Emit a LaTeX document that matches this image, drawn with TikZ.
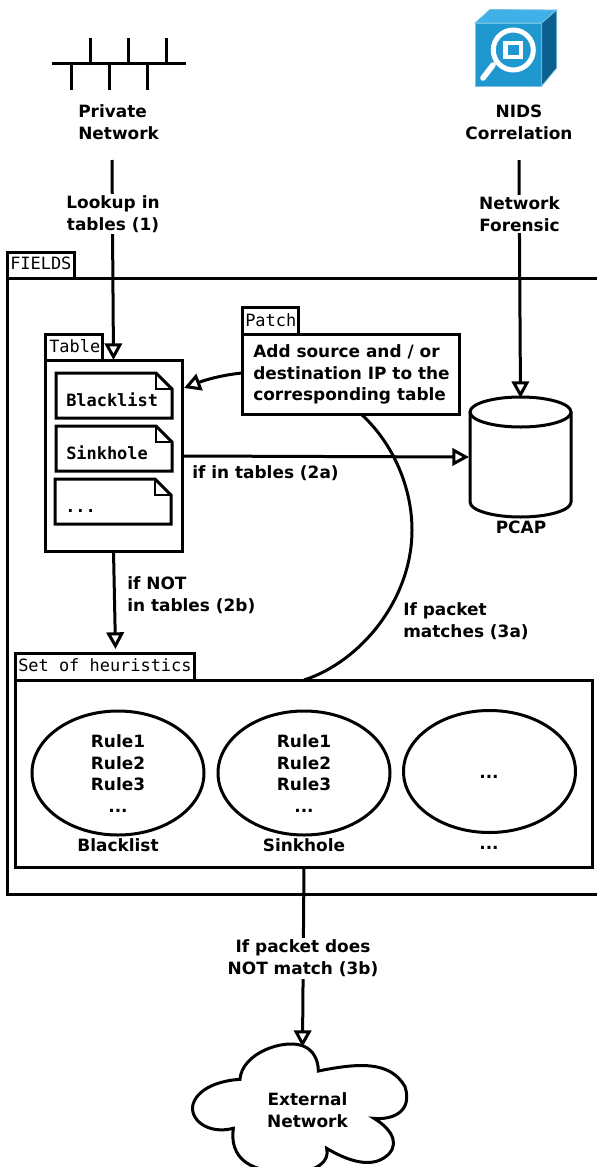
\documentclass[tikz,border=0pt]{standalone}
\usepackage{fontspec}
\setmainfont{DejaVu Sans}
\setmonofont{DejaVu Sans Mono}
\usetikzlibrary{arrows.meta,shapes.geometric}
\definecolor{icofront}{HTML}{1F97CF}
\definecolor{icotop}{HTML}{3FB0E8}
\definecolor{icoside}{HTML}{0A5F8C}
\def\tdots{...}
\tikzset{
  ln/.style={line width=2.25pt,line join=miter},
  box/.style={draw,line width=2.25pt,fill=white,inner sep=0pt,outer sep=0pt,anchor=north west},
  tabtxt/.style={font=\ttfamily\fontsize{12.7}{16}\selectfont,inner sep=0pt,anchor=base west},
  lbl/.style={font=\bfseries\fontsize{12.7}{16.4}\selectfont,inner sep=0pt,align=center},
  lbll/.style={font=\bfseries\fontsize{12.7}{16.4}\selectfont,inner sep=0pt,align=left},
  cut/.style={lbl,fill=white,inner sep=1.5pt},
  conn/.style={ln,-{Triangle[open,length=12.5pt,width=13pt,line width=2.25pt,fill=white]}},
  plainconn/.style={ln},
  notebox/.style={ln,fill=white},
  rule/.style={draw,ellipse,line width=2.25pt,fill=white,inner sep=0pt,outer sep=0pt},
}
\begin{document}
\begin{tikzpicture}[x=0.75pt,y=-0.75pt]
\useasboundingbox (0,0) rectangle (597,1167);
% Private network symbol
\draw[ln] (52,63) -- (186,63);
\foreach \xx in {90,128,166} \draw[ln] (\xx,38) -- (\xx,63);
\foreach \xx in {71,109,147} \draw[ln] (\xx,63) -- (\xx,90);
\node[lbll,anchor=north west] (pn) at (78,104) {Private\\Network};
% NIDS icon
\fill[icofront,draw=icofront!60!white,line width=0.6pt] (475,23) rectangle (541.7,86);
\fill[icotop,draw=icofront!60!white,line width=0.6pt] (475,23) -- (490,9.5) -- (556.7,10) -- (541.7,23) -- cycle;
\fill[icoside,draw=icofront!60!white,line width=0.6pt] (541.7,23) -- (556.7,10) -- (556.7,68) -- (541.7,86) -- cycle;
\draw[white,line width=4.2pt,line cap=round] (493,65) -- (483,78);
\draw[white,line width=3.75pt] (513.3,50) circle (20);
\draw[white,line width=3.4pt] (505.5,43) rectangle (521,57);
\node[lbl] (nids) at (519,122) {NIDS\\Correlation};
% FIELDS
\node[box,minimum width=67.5*0.75pt,minimum height=26*0.75pt] (fieldstab) at (7,252) {};
\node[tabtxt] (fieldstxt) at (10,269) {FIELDS};
\draw[ln] (597,278) -- (7,278) -- (7,894) -- (597,894);
% Table
\node[box,minimum width=57*0.75pt,minimum height=26*0.75pt] (tabletab) at (45,334) {};
\node[tabtxt] (tabletxt) at (49,352) {Table};
\node[box,minimum width=137*0.75pt,minimum height=191*0.75pt] (tablebox) at (45,360) {};
\foreach \yy/\nm/\xo/\tn in {373/Blacklist/56/nb,426/Sinkhole/56/ns,479/\tdots/55/nd}{
  \draw[notebox] (\xo,\yy) -- ({\xo+100},\yy) -- ({\xo+116},{\yy+16}) -- ({\xo+116},{\yy+45}) -- (\xo,{\yy+45}) -- cycle;
  \draw[ln,line width=1.6pt] ({\xo+100},\yy) -- ({\xo+100},{\yy+16}) -- ({\xo+116},{\yy+16});
  \node[tabtxt,font=\ttfamily\bfseries\fontsize{12.7}{16}\selectfont] (\tn) at ({\xo+10},{\yy+33}) {\nm};
}
% Patch
\node[box,minimum width=56*0.75pt,minimum height=27*0.75pt] (patchtab) at (242,307) {};
\node[tabtxt] (patchtxt) at (245,326) {Patch};
\node[box,minimum width=217*0.75pt,minimum height=80*0.75pt] (patchbox) at (242,334) {};
\node[lbll,anchor=north west] (patchlbl) at (253,344) {Add source and / or\\destination IP to the\\corresponding table};
% PCAP cylinder
\draw[ln,fill=white] (470,412) -- (470,502) arc[start angle=180,end angle=0,x radius=50.5,y radius=15] -- (571,412);
\draw[ln,fill=white] (520.5,412) ellipse[x radius=50.5,y radius=15];
\coordinate (pcaptop) at (520.5,398);
\coordinate (pcapleft) at (469,457);
\node[lbl] (pcap) at (521,527) {PCAP};
% Heuristics
\node[box,minimum width=179*0.75pt,minimum height=27*0.75pt] (settab) at (15,653) {};
\node[tabtxt] (settxt) at (18,671) {Set of heuristics};
\node[box,minimum width=577*0.75pt,minimum height=187*0.75pt] (setbox) at (15,680) {};
\node[rule,minimum width=172*0.75pt,minimum height=124*0.75pt] (e1) at (118,773) {};
\node[rule,minimum width=172*0.75pt,minimum height=124*0.75pt] (e2) at (304,773) {};
\node[rule,minimum width=172*0.75pt,minimum height=122*0.75pt] (e3) at (489.5,771.5) {};
\node[lbl] (r1) at (118,773.5) {Rule1\\Rule2\\Rule3\\...};
\node[lbl] (r2) at (304,773.5) {Rule1\\Rule2\\Rule3\\...};
\node[lbl] (r3) at (489,776.5) {...};
\node[lbl] (bl) at (118,845) {Blacklist};
\node[lbl] (sh) at (304,845) {Sinkhole};
\node[lbl] (dd) at (489,848) {...};
% Cloud
\begin{scope}[shift={(170,1030)},x=0.25pt,y=-0.25pt]
\draw[ln,fill=white] (445,123) .. controls (560,100) and (660,90) .. (705,170)
  .. controls (730,250) and (660,270) .. (612,265)
  .. controls (670,300) and (695,350) .. (640,385)
  .. controls (590,415) and (520,385) .. (470,355)
  .. controls (480,395) and (440,425) .. (370,425)
  .. controls (280,430) and (175,410) .. (190,295)
  .. controls (110,315) and (55,265) .. (70,220)
  .. controls (90,165) and (170,150) .. (210,148)
  .. controls (215,70) and (340,25) .. (400,48)
  .. controls (430,60) and (445,90) .. (445,123) -- cycle;
\end{scope}
\node[lbl] (ext) at (307.5,1110) {External\\Network};
\coordinate (cloudtop) at (302.5,1047);
% Free ends
\coordinate (pnout) at (112,160);
\coordinate (nidsout) at (519,160);
\coordinate (tabletop) at (113.5,360);
\coordinate (tableright) at (184,388);
\coordinate (setin) at (115.5,649);
\coordinate (patchout) at (361,414);
\coordinate (arcmid) at (412,530);
\coordinate (setarc) at (304,680);
% Connectors
\draw[conn] (pnout) -- (tabletop);
\draw[conn] (nidsout) -- (pcaptop);
\draw[conn] (patchbox.west |- 0,373) .. controls (222,375) and (205,380) .. (tableright);
\draw[conn] (tablebox.east |- 0,456) -- (pcapleft);
\draw[conn] (tablebox.south) -- (setin);
\draw[plainconn] (patchout) .. controls (395,445) and (412,490) .. (arcmid) .. controls (412,600) and (360,662) .. (setarc);
\draw[conn] (setbox.south -| setarc) -- (cloudtop);
% Connector labels
\node[cut] (l1) at (113,214) {Lookup in\\tables (1)};
\node[cut] (l2) at (519.5,214) {Network\\Forensic};
\node[lbll,anchor=north west] (l3) at (192,465.5) {if in tables (2a)};
\node[lbll,anchor=north west] (l4) at (127,576.5) {if NOT\\in tables (2b)};
\node[lbll,anchor=north west] (l5) at (403,602) {If packet\\matches (3a)};
\node[cut] (l6) at (303,958.5) {If packet does\\NOT match (3b)};
\end{tikzpicture}
\end{document}
